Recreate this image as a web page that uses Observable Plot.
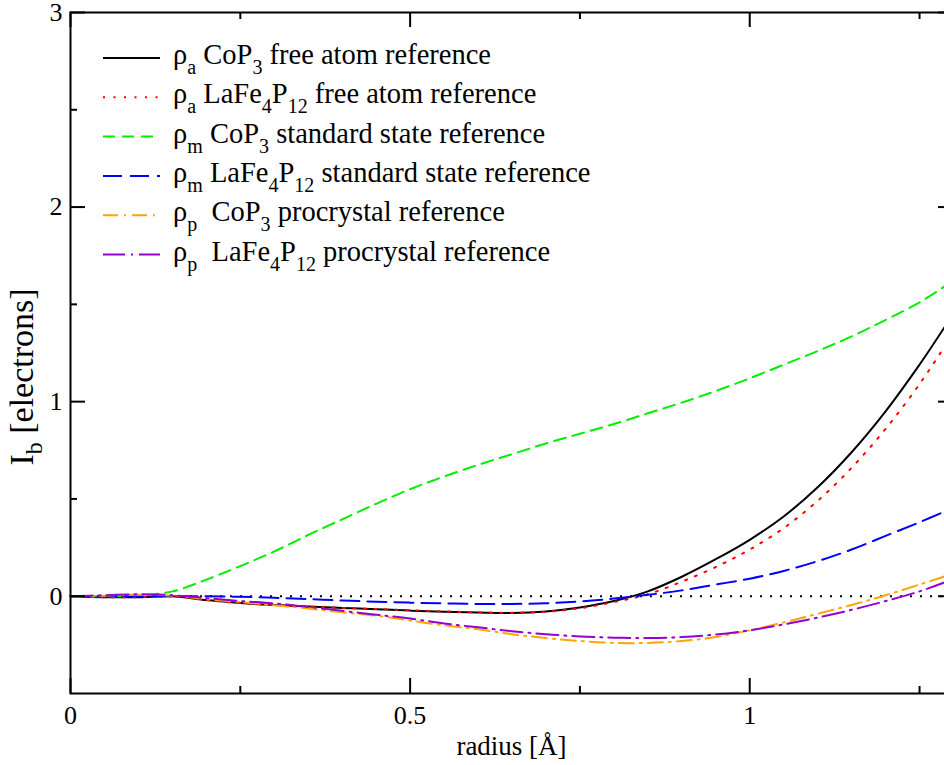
<!DOCTYPE html>
<html><head><meta charset="utf-8">
<script src="https://cdn.jsdelivr.net/npm/d3@7"></script>
<script src="https://cdn.jsdelivr.net/npm/@observablehq/plot@0.6"></script>
<style>
html,body{margin:0;padding:0;background:#fff;overflow:hidden;}
#chart{width:944px;height:765px;overflow:hidden;position:relative;}
#chart svg{max-width:none !important;}
</style></head><body><div id="chart"></div>
<script>
// ---- data ----
const radius      = [0, 0.05, 0.1, 0.15, 0.2, 0.25, 0.3, 0.35, 0.4, 0.45, 0.5, 0.55, 0.6, 0.65, 0.7, 0.75, 0.8, 0.85, 0.9, 0.95, 1.0, 1.05, 1.1, 1.15, 1.2, 1.25, 1.29];
const rhoA_CoP3   = [0, -0.005, -0.005, 0, -0.02, -0.035, -0.045, -0.053, -0.06, -0.067, -0.074, -0.08, -0.084, -0.086, -0.078, -0.058, -0.025, 0.025, 0.10, 0.19, 0.29, 0.41, 0.56, 0.74, 0.95, 1.19, 1.40];
const rhoA_LaFe   = [0, -0.005, -0.005, 0, -0.02, -0.035, -0.045, -0.053, -0.06, -0.066, -0.072, -0.078, -0.083, -0.085, -0.08, -0.062, -0.03, 0.01, 0.075, 0.15, 0.24, 0.35, 0.49, 0.66, 0.86, 1.09, 1.30];
const rhoM_CoP3   = [0, 0, 0.003, 0.025, 0.085, 0.155, 0.23, 0.315, 0.395, 0.475, 0.55, 0.615, 0.675, 0.73, 0.785, 0.835, 0.885, 0.94, 0.995, 1.055, 1.12, 1.19, 1.26, 1.335, 1.42, 1.51, 1.60];
const rhoM_LaFe   = [0, 0, 0, 0, 0, -0.003, -0.008, -0.015, -0.022, -0.028, -0.033, -0.037, -0.04, -0.04, -0.036, -0.027, -0.012, 0.007, 0.03, 0.06, 0.09, 0.13, 0.18, 0.24, 0.31, 0.38, 0.44];
const rhoP_CoP3   = [0, 0.003, 0.008, 0.003, -0.015, -0.03, -0.047, -0.063, -0.083, -0.10, -0.125, -0.15, -0.17, -0.195, -0.215, -0.23, -0.24, -0.24, -0.23, -0.21, -0.175, -0.135, -0.09, -0.045, 0.005, 0.06, 0.105];
const rhoP_LaFe   = [0, 0.005, 0.01, 0.005, -0.01, -0.025, -0.037, -0.055, -0.075, -0.095, -0.115, -0.14, -0.16, -0.18, -0.195, -0.207, -0.213, -0.215, -0.21, -0.197, -0.175, -0.145, -0.11, -0.07, -0.025, 0.025, 0.075];

const xMajorTicks = [0, 0.5, 1];
const xMinorTicks = [0.25, 0.75, 1.25];
const yMajorTicks = [0, 1, 2, 3];
const yMinorTicks = [0.5, 1.5, 2.5];

// legend labels: [text, isSubscript]
const legendLabels = [
  [["ρ",0],["a",1],[" CoP",0],["3",1],[" free atom reference",0]],
  [["ρ",0],["a",1],[" LaFe",0],["4",1],["P",0],["12",1],[" free atom reference",0]],
  [["ρ",0],["m",1],[" CoP",0],["3",1],[" standard state reference",0]],
  [["ρ",0],["m",1],[" LaFe",0],["4",1],["P",0],["12",1],[" standard state reference",0]],
  [["ρ",0],["p",1],["  CoP",0],["3",1],[" procrystal reference",0]],
  [["ρ",0],["p",1],["  LaFe",0],["4",1],["P",0],["12",1],[" procrystal reference",0]]
];
const seriesValues = [rhoA_CoP3, rhoA_LaFe, rhoM_CoP3, rhoM_LaFe, rhoP_CoP3, rhoP_LaFe];

// ---- styles / layout ----
const seriesStyle = [
  {stroke:"#000000", dash:null},
  {stroke:"#ff0000", dash:"2,8.5"},
  {stroke:"#00ee00", dash:"12,7"},
  {stroke:"#0000ff", dash:"19,8"},
  {stroke:"#ffa500", dash:"15,6,2,6"},
  {stroke:"#9400d3", dash:"22,6,2,6"}
];
const W = 953, H = 765, mL = 70, mR = 0, mT = 12, mB = 72;
const plotW = W - mL - mR, plotH = H - mT - mB;
const major = 15, minor = 7;

const series = seriesValues.map((vals) => radius.map((x, j) => ({x, y: vals[j]})));

const marks = [];
marks.push(Plot.ruleY([0], {stroke:"black", strokeWidth:2, strokeDasharray:"2,8"}));
series.forEach((data, i) => {
  const s = seriesStyle[i];
  marks.push(Plot.line(data, {x:"x", y:"y", curve:"catmull-rom", stroke:s.stroke, strokeWidth:2, strokeDasharray:s.dash || undefined}));
});
marks.push(Plot.frame({stroke:"black", strokeWidth:2}));
// inward ticks
const tk = {stroke:"black", strokeWidth:2};
marks.push(Plot.tickX(xMajorTicks, {x:d => d, insetTop: plotH - major, ...tk}));
marks.push(Plot.tickX(xMinorTicks, {x:d => d, insetTop: plotH - minor, ...tk}));
marks.push(Plot.tickX(xMajorTicks, {x:d => d, insetBottom: plotH - major, ...tk}));
marks.push(Plot.tickX(xMinorTicks, {x:d => d, insetBottom: plotH - minor, ...tk}));
marks.push(Plot.tickY(yMajorTicks, {y:d => d, insetRight: plotW - major, ...tk}));
marks.push(Plot.tickY(yMinorTicks, {y:d => d, insetRight: plotW - minor, ...tk}));
marks.push(Plot.tickY(yMajorTicks, {y:d => d, insetLeft: plotW - major, ...tk}));
marks.push(Plot.tickY(yMinorTicks, {y:d => d, insetLeft: plotW - minor, ...tk}));
// tick labels
marks.push(Plot.axisX(xMajorTicks, {anchor:"bottom", tickSize:0, tickPadding:12, label:null, tickFormat:d => String(d), fill:"black"}));
marks.push(Plot.axisY(yMajorTicks, {anchor:"left", tickSize:0, tickPadding:8, label:null, tickFormat:d => String(d), fill:"black"}));

const svg = Plot.plot({
  width: W, height: H,
  marginLeft: mL, marginRight: mR, marginTop: mT, marginBottom: mB,
  x: {domain:[0, 1.3]},
  y: {domain:[-0.5, 3]},
  style: {fontFamily:"'Liberation Serif', 'Times New Roman', serif", fontSize:"26px", background:"white", color:"black", overflow:"visible", maxWidth:"none"},
  marks
});
svg.style.maxWidth = "none";
document.getElementById("chart").appendChild(svg);

const sel = d3.select(svg);
const font = "'Liberation Serif', 'Times New Roman', serif";

function addRich(g, parts, size, subSize, shift) {
  let prevSub = false;
  parts.forEach(([t, sub]) => {
    const ts = g.append("tspan").text(t);
    if (sub) { ts.attr("font-size", subSize); if (!prevSub) ts.attr("dy", shift); }
    else { ts.attr("font-size", size); if (prevSub) ts.attr("dy", -shift); }
    prevSub = !!sub;
  });
}

// x label
sel.append("text").attr("x", (mL + W - mR) / 2).attr("y", 755).attr("text-anchor","middle")
  .attr("font-family", font).attr("font-size", 27).attr("fill","black").text("radius [Å]");
// y label
const yl = sel.append("text").attr("transform","translate(33,377) rotate(-90)").attr("text-anchor","middle")
  .attr("font-family", font).attr("fill","black").style("white-space","pre");
addRich(yl, [["I",0],["b",1],[" [electrons]",0]], 34, 24, 9);

// legend
const lg = sel.append("g").attr("text-anchor","start");
legendLabels.forEach((parts, i) => {
  const y = 58 + i * 39.3;
  const s = seriesStyle[i];
  lg.append("line").attr("x1",103).attr("x2",160).attr("y1",y).attr("y2",y)
    .attr("stroke", s.stroke).attr("stroke-width",2).attr("stroke-dasharray", s.dash || null);
  const t = lg.append("text").attr("x",173).attr("y",y+6).attr("font-family",font).attr("fill","black")
    .attr("text-anchor","start").style("white-space","pre");
  addRich(t, parts, 28.5, 20, 10);
});
</script></body></html>
